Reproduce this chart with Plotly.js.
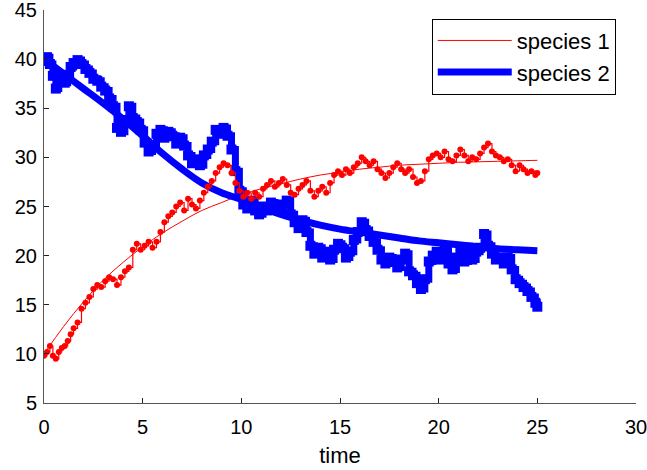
<!DOCTYPE html>
<html>
<head>
<meta charset="utf-8">
<script src="https://cdn.plot.ly/plotly-3.0.1.min.js"></script>
<style>html,body{margin:0;padding:0;background:#fff;}#chart{width:647px;height:470px;}</style>
</head>
<body>
<div id="chart"></div>
<script>
// Deterministic (mean) curves
var smoothTime = [0,1,2,3,4,5,6,7,8,9,10,11,12,13,14,15,16,17,18,19,20,21,22,23,24,25];
var species1Smooth = [10,12.8,15.3,17.5,19.3,20.9,22.3,23.5,24.6,25.4,26.2,26.8,27.3,27.8,28.2,28.5,28.8,29.0,29.2,29.3,29.4,29.5,29.55,29.6,29.65,29.7];
var species2Smooth = [40,38.5,37.0,35.5,33.9,32.2,30.4,28.8,27.4,26.4,25.7,24.9,24.2,23.6,23.1,22.7,22.4,22.1,21.8,21.5,21.3,21.1,20.9,20.7,20.6,20.5];

// Stochastic sample path
var noisyTime = [0,0.15,0.3,0.45,0.6,0.75,0.9,1.05,1.2,1.35,1.5,
1.7,1.9,2.1,2.3,2.5,2.7,2.9,3.1,3.3,3.5,3.7,3.9,4.1,4.3,4.5,4.7,4.9,
5.1,5.3,5.5,5.7,5.9,6.1,6.3,6.5,6.7,6.9,7.1,7.3,7.5,7.7,7.9,
8.1,8.3,8.5,8.7,8.9,9.1,9.3,9.5,9.7,9.9,10.1,10.3,10.5,10.7,10.9,
11.1,11.3,11.5,11.7,11.9,12.1,12.3,12.5,12.7,12.9,13.1,13.3,13.5,13.7,13.9,
14.1,14.3,14.5,14.7,14.9,15.1,15.3,15.5,15.7,15.9,16.1,16.3,16.5,16.7,16.9,
17.1,17.3,17.5,17.7,17.9,18.1,18.3,18.5,18.7,18.9,19.1,19.3,19.5,19.7,19.9,
20.1,20.3,20.5,20.7,20.9,21.1,21.3,21.5,21.7,21.9,22.1,22.3,22.5,22.7,22.9,
23.1,23.3,23.5,23.7,23.9,24.1,24.3,24.5,24.7,24.9,25.0];
var species1Noisy = [9.8,10.2,10.8,9.8,9.5,10.2,10.6,10.8,11.3,12.0,12.6,
13.2,14.6,15.2,15.8,16.6,17.0,16.8,17.4,17.8,17.6,17.0,17.8,18.4,18.8,20.6,21.2,20.6,
21.0,21.4,20.8,21.4,22.4,23.4,24.0,24.4,25.0,25.4,24.6,25.8,25.2,24.8,25.6,
26.4,27.0,27.6,28.4,29.0,29.4,29.2,28.4,27.4,26.6,26.0,26.4,25.8,26.4,26.0,
26.8,27.2,27.6,27.0,27.4,27.8,27.2,26.4,26.2,26.8,27.2,27.6,26.6,26.0,26.6,
27.0,26.4,27.4,28.2,28.6,28.2,28.8,28.4,29.0,29.4,30.0,29.6,29.2,29.6,28.8,
28.4,27.9,28.4,29.0,29.4,28.8,28.4,28.8,28.0,27.4,27.6,28.6,29.8,30.2,30.4,
30.0,30.6,29.8,29.6,30.2,30.8,30.2,29.6,30.0,29.8,30.4,31.0,31.4,30.6,30.2,
30.0,29.6,29.8,29.2,28.6,29.2,28.8,28.4,28.6,28.2,28.4];
var species2Noisy = [39.8,40.2,39.5,38.3,37.0,37.8,38.2,37.6,38.4,39.2,39.6,
39.9,39.5,39.0,38.6,38.0,37.8,37.2,36.8,36.0,35.2,33.0,32.6,33.8,35.2,34.0,33.6,32.8,
31.5,30.6,31.2,32.4,32.8,32.0,32.6,32.2,31.4,32.0,31.2,30.2,29.4,29.8,29.2,
30.2,30.8,31.6,32.8,32.4,33.0,32.2,30.8,28.6,26.6,25.2,24.8,25.6,24.6,24.2,
25.0,24.6,25.4,25.0,24.6,25.2,25.6,24.2,23.4,22.8,23.6,22.4,21.0,20.2,20.8,
19.8,20.4,19.6,20.6,21.2,20.8,19.8,20.4,21.6,22.4,23.4,22.6,22.0,21.4,20.6,
19.6,19.2,19.8,19.4,18.8,19.6,20.2,18.4,18.0,17.2,16.6,17.6,19.4,20.0,20.4,
19.6,20.6,19.2,18.6,19.8,20.6,19.4,20.8,19.6,20.4,20.8,22.2,21.0,20.2,19.6,
19.8,19.2,19.8,18.6,17.6,17.2,16.8,16.4,15.8,15.2,14.8];

var legendNames = ['species 1', 'species 2'];
var xTicks = [0,5,10,15,20,25,30];
var yTicks = [5,10,15,20,25,30,35,40,45];

var RED = '#ff0000', BLUE = '#0000ff';
var traces = [
  {x: smoothTime, y: species1Smooth, mode: 'lines', name: legendNames[0],
   line: {color: RED, width: 1, shape: 'spline'}, showlegend: true},
  {x: smoothTime, y: species2Smooth, mode: 'lines', name: legendNames[1],
   line: {color: BLUE, width: 7, shape: 'spline'}, showlegend: true},
  {x: noisyTime, y: species2Noisy, mode: 'lines+markers', showlegend: false,
   line: {color: BLUE, width: 7, shape: 'hv'}, marker: {symbol: 'square', size: 10, color: BLUE}},
  {x: noisyTime, y: species1Noisy, mode: 'lines+markers', showlegend: false,
   line: {color: RED, width: 1.2, shape: 'hv'}, marker: {symbol: 'circle', size: 6, color: RED}}
];

var axisCommon = {
  showline: true, linecolor: '#555', linewidth: 1, mirror: false,
  ticks: 'inside', ticklen: 5, tickcolor: '#222', tickwidth: 1,
  showgrid: false, zeroline: false, ticklabeloverflow: 'allow',
  tickfont: {family: 'Liberation Sans, Arial, sans-serif', size: 20, color: '#000'}
};
var layout = {
  width: 647, height: 470,
  margin: {l: 44, r: 11, t: 10, b: 67},
  paper_bgcolor: '#fff', plot_bgcolor: '#fff',
  font: {family: 'Liberation Sans, Arial, sans-serif', color: '#000'},
  xaxis: Object.assign({}, axisCommon, {range: [0, 30], tickvals: xTicks, ticktext: xTicks.map(String),
    ticklabelstandoff: 6,
    title: {text: 'time', font: {size: 22, color: '#000'}, standoff: 10}}),
  yaxis: Object.assign({}, axisCommon, {range: [5, 45], tickvals: yTicks, ticktext: yTicks.map(String),
    ticklabelstandoff: 2}),
  showlegend: true,
  legend: {x: 0.655, y: 0.978, xanchor: 'left', yanchor: 'top',
    bgcolor: '#fff', bordercolor: '#000', borderwidth: 1,
    font: {size: 22, color: '#000'}, itemwidth: 74, tracegroupgap: 0,
    entrywidth: 185, entrywidthmode: 'pixels'}
};
Plotly.newPlot('chart', traces, layout, {displayModeBar: false, staticPlot: true});
</script>
</body>
</html>
